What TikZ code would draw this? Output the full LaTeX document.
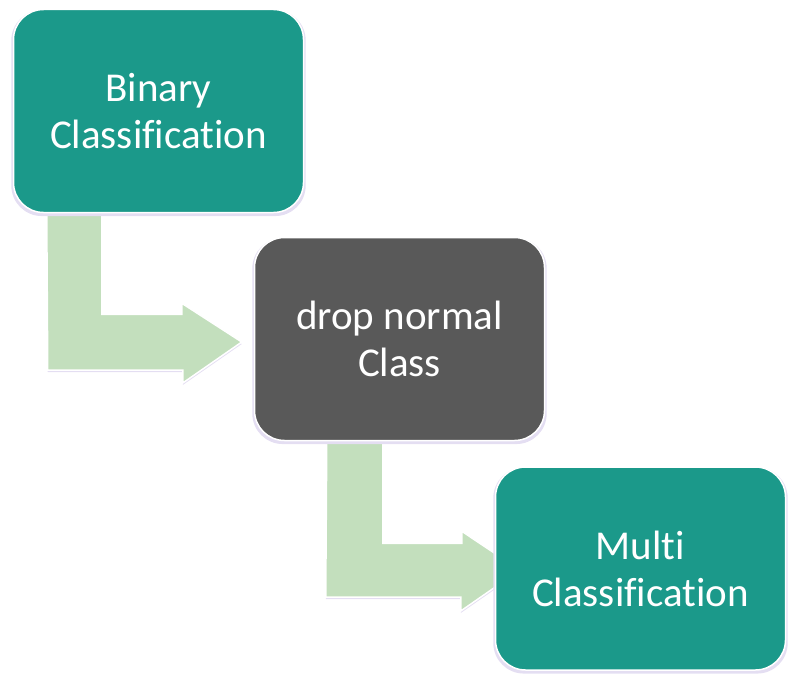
\documentclass[tikz,border=0pt]{standalone}
\usepackage{fontspec}
\setmainfont{Carlito}[Ligatures=NoCommon]
\usetikzlibrary{backgrounds,calc,shadows,positioning}
\definecolor{teal}{RGB}{27,153,138}
\definecolor{dgray}{RGB}{89,89,89}
\definecolor{lgreen}{RGB}{195,223,189}
\definecolor{lav}{RGB}{228,222,242}

\tikzset{
  box/.style={rectangle, rounded corners=30pt, minimum width=290pt, minimum height=203pt,
    inner sep=0pt, draw=white, line width=1.5pt, text=white, align=center,
    font=\fontsize{41}{47}\selectfont,
    general shadow={fill=lav, shadow scale=1.015, shadow yshift=-2pt}},
  flow/.style={fill=lgreen, draw=white, line width=1.5pt,
    general shadow={fill=lav, shadow yshift=-2pt}}
}

\begin{document}
\begin{tikzpicture}[x=1pt,y=-1pt]
  \useasboundingbox (0,0) rectangle (794,685); %Page size

  \node[box, fill=teal]  (binary) at (158.5,111)   {Binary\\Classification};
  \node[box, fill=dgray] (drop)   at (399.5,339)   {drop normal\\Class};
  \node[box, fill=teal]  (multi)  at (640.5,568.5) {Multi\\Classification};

  \begin{scope}[on background layer]
  %Bent arrow binary -> drop
  \filldraw[flow] ($(binary.south west)+(34,0)$) -- ++(55,0) -- ++(0,101) -- ++(80,0)
    -- ++(0,-11) -- ($(drop.west)+(-12,3)$) -- ++(-59,41) -- ++(0,-13) -- ++(-135,0) -- cycle;
  %Bent arrow drop -> multi
  \filldraw[flow] ($(drop.south west)+(73,0)$) -- ++(56,0) -- ++(0,102) -- ++(79,0)
    -- ++(0,-12) -- ($(multi.west)+(25,1.5)$) -- ++(-59,41) -- ++(0,-14) -- ++(-135,0) -- cycle;
  \end{scope}
\end{tikzpicture}
\end{document}
